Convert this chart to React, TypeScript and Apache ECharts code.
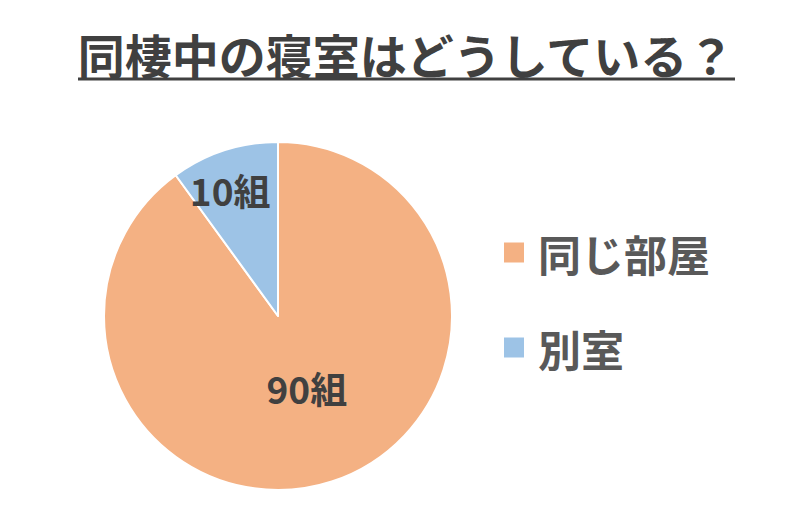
import { useEffect, useRef } from 'react';
import * as echarts from 'echarts';

const titleText = '同棲中の寝室はどうしている？';
const categories = ['同じ部屋', '別室'];
const values = [90, 10];
const unit = '組';
const colors = ['#F4B183', '#9DC3E6'];
// label nudges per slice (style only)
const labelOffsets = [[1, -14], [-20, -40]];

const FONT = '"Noto Sans CJK JP", "Noto Sans", sans-serif';

export default function App() {
  const ref = useRef<HTMLDivElement>(null);

  useEffect(() => {
    document.body.style.margin = '0';
    if (!ref.current) return;
    const chart = echarts.init(ref.current, undefined, { renderer: 'svg' });
    chart.setOption({
      animation: false,
      backgroundColor: '#ffffff',
      title: {
        text: titleText,
        left: 401,
        textAlign: 'center',
        top: 25,
        textStyle: { fontFamily: FONT, fontSize: 47, fontWeight: 'bold', color: '#404040' },
      },
      graphic: [
        {
          type: 'line',
          shape: { x1: 78, y1: 79, x2: 735, y2: 79 },
          style: { stroke: '#404040', lineWidth: 3 },
        },
      ],
      legend: {
        orient: 'vertical',
        left: 497,
        top: 226,
        icon: 'rect',
        itemWidth: 22,
        itemHeight: 22,
        itemGap: 52,
        textStyle: {
          fontFamily: FONT,
          fontSize: 43,
          fontWeight: 'bold',
          color: '#595959',
          padding: [0, 0, 0, 8],
        },
        data: categories,
      },
      series: [
        {
          type: 'pie',
          center: [278, 316],
          radius: 174,
          startAngle: 90,
          clockwise: true,
          itemStyle: { borderColor: '#ffffff', borderWidth: 2 },
          label: {
            position: 'inside',
            formatter: (p: any) => `${p.value}${unit}`,
            fontFamily: FONT,
            fontSize: 37,
            fontWeight: 'bold',
            color: '#404040',
          },
          labelLine: { show: false },
          emphasis: { disabled: true },
          data: categories.map((name, i) => ({
            name,
            value: values[i],
            itemStyle: { color: colors[i] },
            label: { offset: labelOffsets[i] },
          })),
        },
      ],
    });
    return () => chart.dispose();
  }, []);

  return <div ref={ref} style={{ width: 800, height: 522 }} />;
}
